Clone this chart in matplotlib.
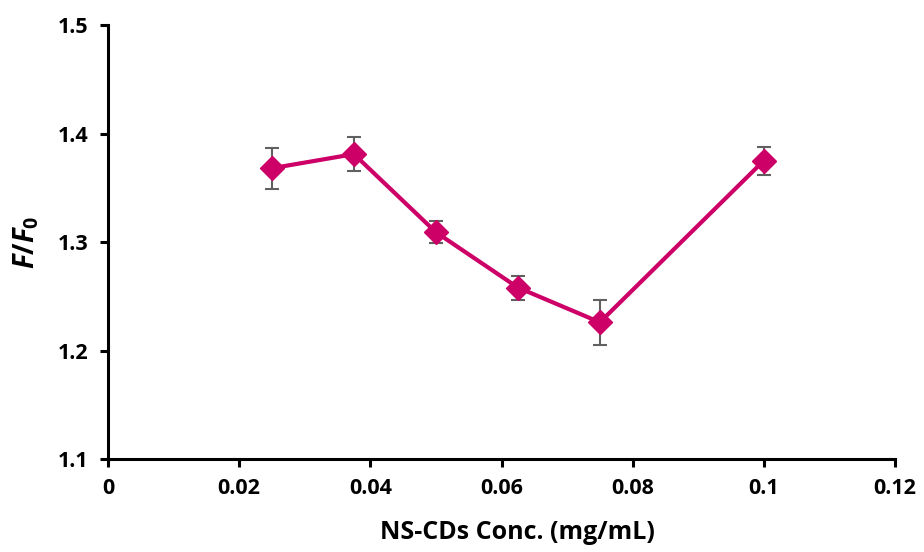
import matplotlib
matplotlib.use("Agg")
import matplotlib.pyplot as plt

# data
conc = [0.025, 0.0375, 0.05, 0.0625, 0.075, 0.1]
ratio = [1.368, 1.381, 1.309, 1.258, 1.226, 1.375]
err = [0.019, 0.016, 0.010, 0.011, 0.021, 0.013]

xticks = [0, 0.02, 0.04, 0.06, 0.08, 0.1, 0.12]
xticklabels = ["0", "0.02", "0.04", "0.06", "0.08", "0.1", "0.12"]
yticks = [1.1, 1.2, 1.3, 1.4, 1.5]

plt.rcParams['font.family'] = ['Open Sans', 'DejaVu Sans']
plt.rcParams['font.weight'] = 'bold'
plt.rcParams['mathtext.fontset'] = 'custom'
plt.rcParams['mathtext.it'] = 'Open Sans:italic:bold'
plt.rcParams['mathtext.rm'] = 'Open Sans:bold'

fig = plt.figure(figsize=(9.24, 5.52), dpi=100)
ax = fig.add_axes([108 / 924, 93 / 552, 787 / 924, 434 / 552])

ax.errorbar(conc, ratio, yerr=err, color='#CC0066', lw=3,
            marker='D', markersize=12, ecolor='#606060', elinewidth=1.5,
            capsize=5, capthick=1.5, zorder=3)

ax.set_xlim(0, 0.12)
ax.set_ylim(1.1, 1.5)
ax.set_xticks(xticks)
ax.set_xticklabels(xticklabels)
ax.set_yticks(yticks)
ax.set_yticklabels([f"{v:.1f}" for v in yticks])

for s in ['top', 'right']:
    ax.spines[s].set_visible(False)
for s in ['left', 'bottom']:
    ax.spines[s].set_linewidth(2.2)
ax.tick_params(direction='out', length=6, width=2.2, labelsize=15.5, pad=8)
for lab in ax.get_xticklabels() + ax.get_yticklabels():
    lab.set_fontweight('bold')

ax.set_xlabel("NS-CDs Conc. (mg/mL)", fontsize=18, fontweight='bold')
ax.xaxis.set_label_coords(0.52, -0.14)
ax.set_ylabel(r"$\mathit{F/F}_{\mathrm{0}}$", fontsize=20, labelpad=12)

fig.savefig("out.png", dpi=100)
